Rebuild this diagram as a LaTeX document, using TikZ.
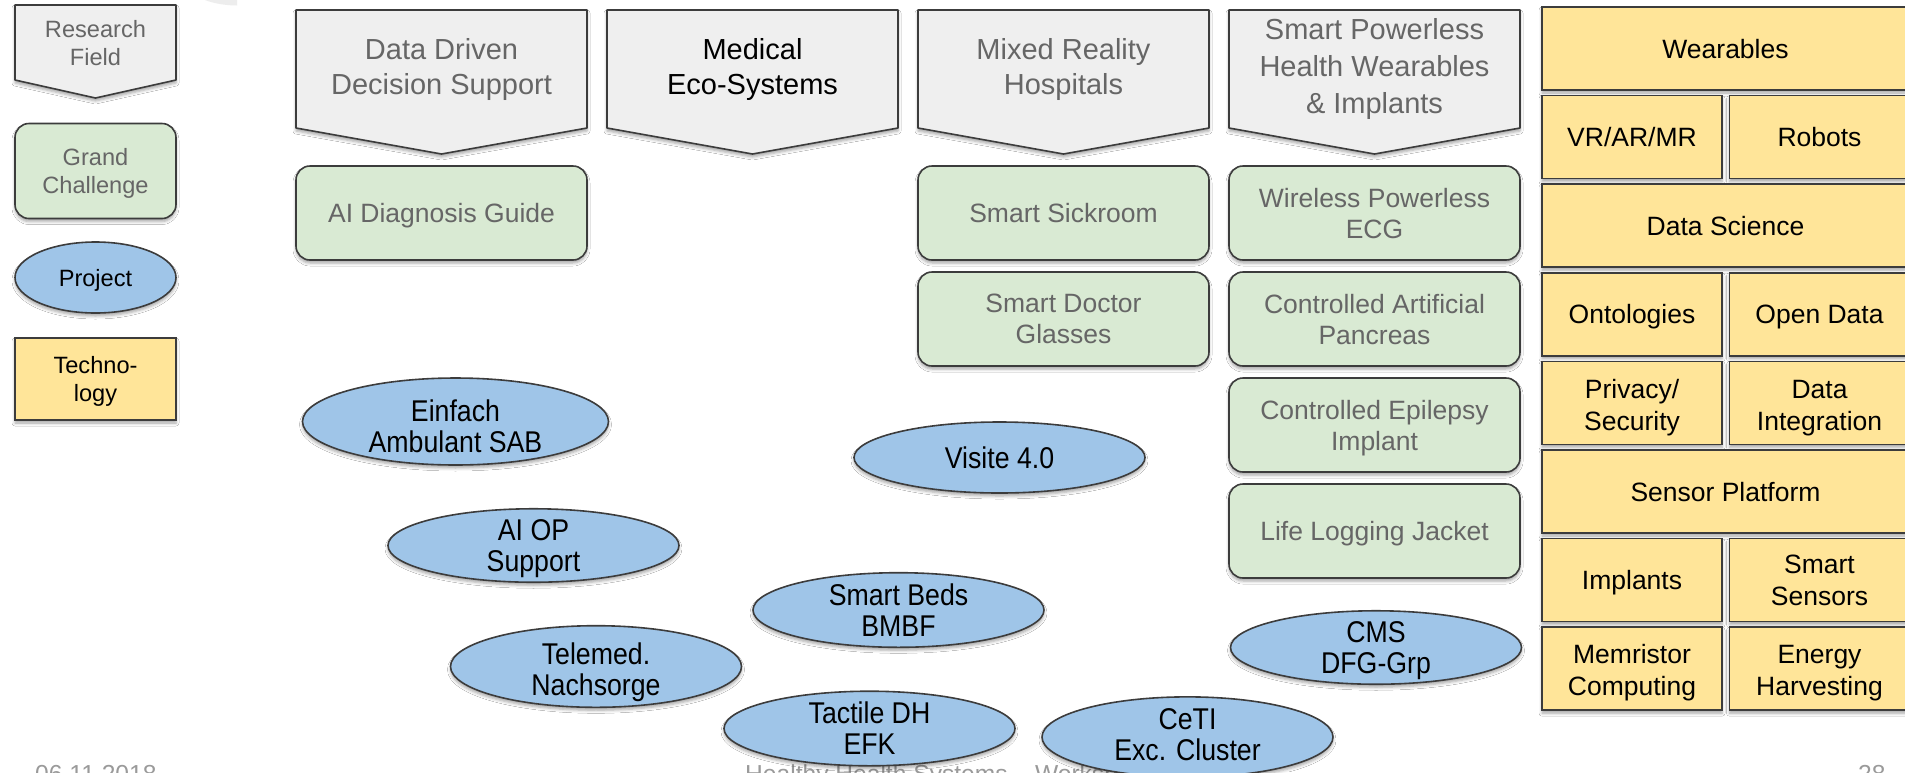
\documentclass[tikz,border=0pt]{standalone}
\usepackage{fontspec}
\setmainfont{Liberation Sans}
\newfontfamily\narrowf[FakeStretch=0.89]{Liberation Sans}
\usetikzlibrary{shapes.geometric,shadows.blur}
\definecolor{fieldfill}{HTML}{EFEFEF}
\definecolor{gcfill}{HTML}{D9EAD3}
\definecolor{projfill}{HTML}{9FC5E8}
\definecolor{techfill}{HTML}{FFE599}
\definecolor{edgecol}{HTML}{3C3C3C}
\definecolor{gtext}{HTML}{666666}
\definecolor{footcol}{HTML}{9A9A9A}
\definecolor{arccol}{HTML}{EDEDED}
\tikzset{
  shad/.style={blur shadow={shadow xshift=0pt, shadow yshift=-3pt, shadow blur radius=3pt, shadow opacity=35}},
  fieldshape/.style={fill=fieldfill, draw=edgecol, line width=1.6pt, line join=round, shad},
  fieldtext/.style={text=gtext, align=center, inner sep=0pt, text depth=0pt, font=\fontsize{29}{35}\selectfont},
  gcbox/.style={rectangle, rounded corners=14pt, fill=gcfill, draw=edgecol, line width=1.6pt,
    minimum width=291pt, minimum height=94pt, inner sep=0pt, text=gtext, align=center, text depth=0pt,
    font=\fontsize{26.5}{31}\selectfont, shad},
  projell/.style={ellipse, fill=projfill, draw=edgecol, line width=1.6pt,
    minimum width=291pt, minimum height=71pt, inner sep=0pt, align=center, text depth=0pt,
    font=\narrowf\fontsize{30}{31}\selectfont, shad},
  techbox/.style={rectangle, fill=techfill, draw=edgecol, line width=1.6pt,
    minimum height=83pt, inner sep=0pt, align=center, text depth=0pt, font=\fontsize{26.5}{31.5}\selectfont, shad},
  techwide/.style={techbox, minimum width=367pt},
  techhalf/.style={techbox, minimum width=180pt},
  legtext/.style={align=center, inner sep=0pt, text depth=0pt, font=\fontsize{23.6}{28}\selectfont},
  foottext/.style={text=footcol, inner sep=0pt, anchor=base west, font=\fontsize{24.6}{28}\selectfont}
}
\begin{document}
\begin{tikzpicture}[x=1pt,y=-1pt]
\path[use as bounding box] (0,0) rectangle (1905,772);
\clip (0,0) rectangle (1905,772);
\fill[white] (0,0) rectangle (1905,772);
% faint watermark sliver
\fill[arccol] (205,0) .. controls (215,4) and (228,5.5) .. (237,5.5) -- (237,0) -- cycle;

% footer (behind)
\node[foottext] (fdate) at (35,782) {06.11.2018};
\node[foottext] (ftitle) at (745,782) {Healthy Health Systems -- Workshop};
\node[foottext] (fpage) at (1858,782) {28};

% legend
\path[fieldshape] (15,5) -- (176,5) -- (176,80) -- (95.5,98) -- (15,80) -- cycle;
\node[legtext, text=gtext] (lrf) at (95.5,43) {Research\\Field};
\node[gcbox, minimum width=161pt, minimum height=95pt, font=\fontsize{23.6}{28}\selectfont] (lgc) at (95.5,171) {Grand\\Challenge};
\node[projell, minimum width=161pt, font=\fontsize{23.6}{28}\selectfont] (lproj) at (95.5,277.5) {Project};
\node[techbox, minimum width=161pt, minimum height=82pt, font=\fontsize{23.6}{28}\selectfont] (ltech) at (95.5,379) {Techno-\\logy};

% research fields
\path[fieldshape] (296,10) -- (587,10) -- (587,128) -- (441.5,154) -- (296,128) -- cycle;
\node[fieldtext] (fdd) at (441.5,66) {Data Driven\\Decision Support};
\path[fieldshape] (607,10) -- (898,10) -- (898,128) -- (752.5,154) -- (607,128) -- cycle;
\node[fieldtext, text=black] (fme) at (752.5,66) {Medical\\Eco-Systems};
\path[fieldshape] (918,10) -- (1209,10) -- (1209,128) -- (1063.5,154) -- (918,128) -- cycle;
\node[fieldtext] (fmr) at (1063.5,66) {Mixed Reality\\Hospitals};
\path[fieldshape] (1229,10) -- (1520,10) -- (1520,128) -- (1374.5,154) -- (1229,128) -- cycle;
\node[fieldtext, font=\fontsize{29}{37}\selectfont] (fsp) at (1374.5,66) {Smart Powerless\\Health Wearables\\\& Implants};

% grand challenges
\node[gcbox] (gai) at (441.5,213) {AI Diagnosis Guide};
\node[gcbox] (gss) at (1063.5,213) {Smart Sickroom};
\node[gcbox] (gsd) at (1063.5,319) {Smart Doctor\\Glasses};
\node[gcbox] (gwp) at (1374.5,213) {Wireless Powerless\\ECG};
\node[gcbox] (gcap) at (1374.5,319) {Controlled Artificial\\Pancreas};
\node[gcbox] (gcei) at (1374.5,425) {Controlled Epilepsy\\Implant};
\node[gcbox] (gllj) at (1374.5,531) {Life Logging Jacket};

% technologies
\node[techwide] (tw) at (1725.5,48.5) {Wearables};
\node[techhalf] (tvr) at (1632,137.1) {VR/AR/MR};
\node[techhalf] (trob) at (1819.5,137.1) {Robots};
\node[techwide] (tds) at (1725.5,225.7) {Data Science};
\node[techhalf] (tont) at (1632,314.3) {Ontologies};
\node[techhalf] (tod) at (1819.5,314.3) {Open Data};
\node[techhalf, text height=55pt] (tpriv) at (1632,402.9) {Privacy/\\Security};
\node[techhalf, text height=55pt] (tdi) at (1819.5,402.9) {Data\\Integration};
\node[techwide] (tsp) at (1725.5,491.5) {Sensor Platform};
\node[techhalf] (timp) at (1632,580.1) {Implants};
\node[techhalf] (tss) at (1819.5,580.1) {Smart\\Sensors};
\node[techhalf, text height=53pt] (tmem) at (1632,668.7) {Memristor\\Computing};
\node[techhalf, text height=53pt] (teh) at (1819.5,668.7) {Energy\\Harvesting};

% projects
\node[projell, minimum width=306pt, text height=61.5pt] (pein) at (455.5,421.5) {Einfach\\Ambulant SAB};
\node[projell] (pvis) at (999.5,457.5) {Visite 4.0};
\node[projell] (paiop) at (533.5,545.5) {AI OP\\Support};
\node[projell] (pbeds) at (898.5,610) {Smart Beds\\BMBF};
\node[projell, text height=57.7pt] (ptel) at (596,666.5) {Telemed.\\Nachsorge};
\node[projell] (pcms) at (1376,647.5) {CMS\\DFG-Grp};
\node[projell] (ptac) at (869.5,728.5) {Tactile DH\\EFK};
\node[projell, text depth=4.8pt] (pceti) at (1187.5,737) {CeTI\\Exc. Cluster};
\end{tikzpicture}
\end{document}
